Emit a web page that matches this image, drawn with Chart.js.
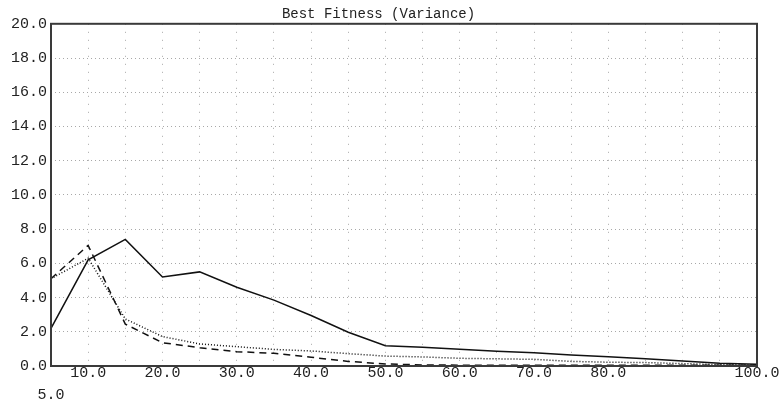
<!DOCTYPE html>
<html>
<head>
<meta charset="utf-8">
<script src="https://cdn.jsdelivr.net/npm/chart.js@4/dist/chart.umd.min.js"></script>
<style>
  html, body { margin: 0; padding: 0; background: #fff; }
  #wrap { width: 784px; height: 404px; }
</style>
</head>
<body>
<div id="wrap"><canvas id="fitnessChart"></canvas></div>
<script>
const generations = [5, 10, 15, 20, 25, 30, 35, 40, 45, 50, 55, 60, 65, 70, 75, 80, 85, 90, 95, 100];
const solidRun  = [2.2, 6.2, 7.4, 5.2, 5.5, 4.6, 3.85, 2.95, 1.97, 1.19, 1.09, 0.98, 0.86, 0.78, 0.64, 0.54, 0.43, 0.29, 0.16, 0.1];
const dottedRun = [5.1, 6.3, 2.75, 1.72, 1.29, 1.13, 0.97, 0.88, 0.72, 0.58, 0.53, 0.45, 0.42, 0.39, 0.27, 0.22, 0.2, 0.14, 0.08, 0.05];
const dashedRun = [5.1, 7.05, 2.45, 1.36, 1.07, 0.84, 0.74, 0.51, 0.27, 0.12, 0.06, 0.05, 0.05, 0.05, 0.05, 0.05, 0.04, 0.04, 0.04, 0.04];
const yTicks = [0, 2, 4, 6, 8, 10, 12, 14, 16, 18, 20];
const xLabelled = [10, 20, 30, 40, 50, 60, 70, 80, 100];

const mono = "'Liberation Mono', 'DejaVu Sans Mono', monospace";

const toPoints = vals => generations.map((g, i) => ({ x: g, y: vals[i] }));

// dark frame around the plotting area
const frame = {
  id: 'frame',
  afterDraw(chart) {
    const { ctx, chartArea: a } = chart;
    ctx.save();
    ctx.strokeStyle = '#3a3a3a';
    ctx.lineWidth = 2;
    ctx.strokeRect(a.left, a.top, a.right - a.left, a.bottom - a.top);
    ctx.restore();
  }
};

const lineStyle = {
  borderColor: '#111',
  borderWidth: 1.5,
  pointRadius: 0,
  tension: 0,
  fill: false
};

new Chart(document.getElementById('fitnessChart'), {
  type: 'line',
  data: {
    datasets: [
      { label: 'run 1', data: toPoints(solidRun), ...lineStyle },
      { label: 'run 2', data: toPoints(dottedRun), ...lineStyle, borderDash: [1, 2] },
      { label: 'run 3', data: toPoints(dashedRun), ...lineStyle, borderDash: [7, 5] }
    ]
  },
  options: {
    responsive: true,
    maintainAspectRatio: false,
    animation: false,
    layout: { padding: { left: 0, right: 27, top: 0, bottom: 0 } },
    plugins: {
      legend: { display: false },
      tooltip: { enabled: false },
      title: {
        display: true,
        text: 'Best Fitness (Variance)',
        color: '#222',
        font: { family: mono, size: 14, weight: 'normal', lineHeight: 1.2 },
        padding: { top: 6, bottom: 1 }
      }
    },
    scales: {
      x: {
        type: 'linear',
        min: 5,
        max: 100,
        afterFit: s => { s.height = 38; },
        afterBuildTicks: s => { s.ticks = generations.map(v => ({ value: v })); },
        grid: { color: '#a8a8a8', lineWidth: 1, drawTicks: false },
        border: { display: false, dash: [1, 7] },
        ticks: {
          color: '#222',
          padding: -4,
          autoSkip: false,
          maxRotation: 0,
          font: { family: mono, size: 15, lineHeight: 1.47 },
          callback: v => {
            if (v === 5) return ['', '5.0'];
            return xLabelled.includes(v) ? v.toFixed(1) : '';
          }
        }
      },
      y: {
        min: 0,
        max: 20,
        afterFit: s => { s.width = 51; },
        afterBuildTicks: s => { s.ticks = yTicks.map(v => ({ value: v })); },
        grid: { color: '#a8a8a8', lineWidth: 1, drawTicks: false },
        border: { display: false, dash: [1, 3] },
        ticks: {
          color: '#222',
          padding: 4,
          font: { family: mono, size: 15 },
          callback: v => v.toFixed(1)
        }
      }
    }
  },
  plugins: [frame]
});
</script>
</body>
</html>
